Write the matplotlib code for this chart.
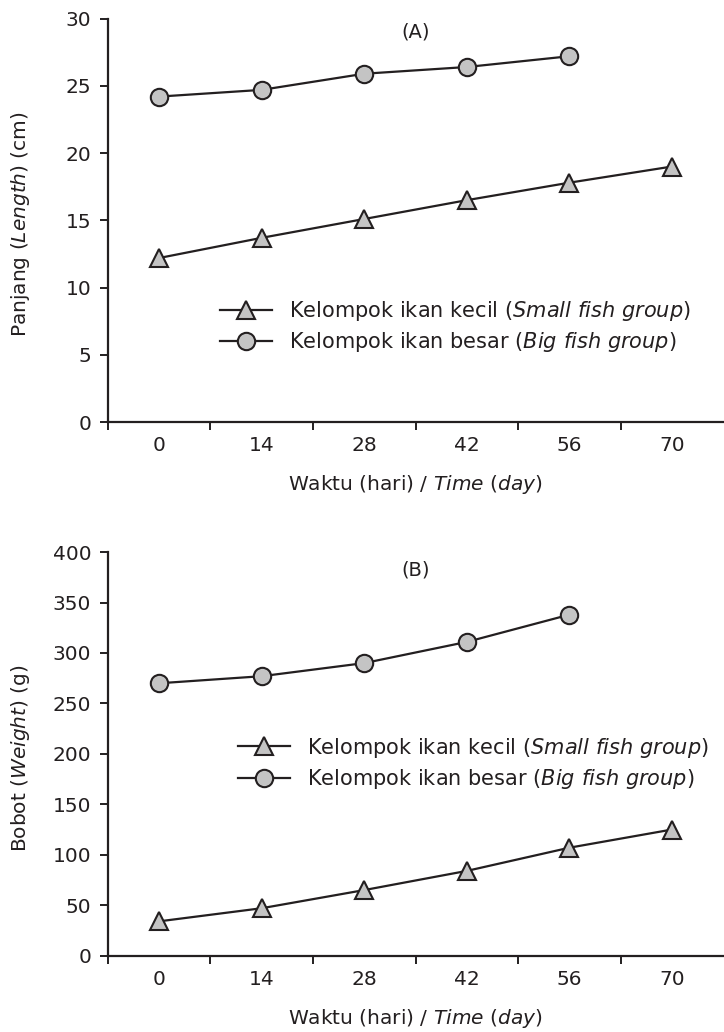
import matplotlib
matplotlib.use('Agg')
import matplotlib.pyplot as plt

plt.rcParams['font.family'] = ['DejaVu Sans']
plt.rcParams['mathtext.fontset'] = 'dejavusans'

# Waktu (hari) / Time (day)
days = ['0', '14', '28', '42', '56', '70']

# (A) Panjang (cm)
length_small = [12.2, 13.7, 15.1, 16.5, 17.8, 19.0]
length_big = [24.2, 24.7, 25.9, 26.4, 27.2]

# (B) Bobot (g)
weight_small = [34, 47, 65, 84, 107, 125]
weight_big = [270, 277, 290, 311, 338]

label_small = 'Kelompok ikan kecil ($\\mathit{Small\\ fish\\ group}$)'
label_big = 'Kelompok ikan besar ($\\mathit{Big\\ fish\\ group}$)'

ink = '#231f20'
fill = '#c4c4c4'

fig = plt.figure(figsize=(7.24, 10.32), dpi=100)
ax1 = fig.add_axes([0.149, 0.591, 0.850, 0.391])
ax2 = fig.add_axes([0.149, 0.074, 0.850, 0.391])


def draw_panel(ax, small, big, ymax, ystep, ylabel, tag, tag_y, leg_anchor):
    x_small = list(range(len(small)))
    x_big = list(range(len(big)))
    ax.plot(x_small, small, color=ink, lw=1.6, marker='^', ms=13,
            mfc=fill, mec=ink, mew=1.5, label=label_small)
    ax.plot(x_big, big, color=ink, lw=1.6, marker='o', ms=12.5,
            mfc=fill, mec=ink, mew=1.5, label=label_big)

    ax.set_xlim(-0.5, len(days) - 0.5)
    ax.set_ylim(0, ymax)
    ax.set_yticks(range(0, ymax + 1, ystep))

    # category labels centred, tick marks between categories (Excel style)
    ax.set_xticks(range(len(days)))
    ax.set_xticklabels(days)
    ax.set_xticks([i - 0.5 for i in range(len(days))], minor=True)
    ax.tick_params(axis='x', which='major', length=0, pad=10,
                   labelsize=14.5, labelcolor=ink)
    ax.tick_params(axis='x', which='minor', length=6, width=1.4,
                   direction='out', color=ink)
    ax.tick_params(axis='y', length=6, width=1.4, direction='out',
                   color=ink, labelsize=14.5, labelcolor=ink, pad=6)

    for side in ['top', 'right']:
        ax.spines[side].set_visible(False)
    for side in ['left', 'bottom']:
        ax.spines[side].set_linewidth(1.6)
        ax.spines[side].set_color(ink)

    ax.set_xlabel('Waktu (hari) / $\\mathit{Time}$ ($\\mathit{day}$)',
                  fontsize=14.5, color=ink, labelpad=13)
    ax.set_ylabel(ylabel, fontsize=14.5, color=ink)
    ax.yaxis.set_label_coords(-0.124, 0.49)
    ax.text(2.5, tag_y, tag, ha='center', va='center', fontsize=14,
            color=ink)

    ax.legend(loc='upper left', bbox_to_anchor=leg_anchor, frameon=False,
              fontsize=15, handlelength=2.5, handletextpad=0.8,
              labelspacing=0.35, borderpad=0, borderaxespad=0,
              labelcolor=ink)


draw_panel(ax1, length_small, length_big, 30, 5,
           'Panjang ($\\mathit{Length}$) (cm)', '(A)', 29.0, (0.182, 0.305))
draw_panel(ax2, weight_small, weight_big, 400, 50,
           'Bobot ($\\mathit{Weight}$) (g)', '(B)', 382, (0.212, 0.545))

fig.savefig('out.png', dpi=100)
